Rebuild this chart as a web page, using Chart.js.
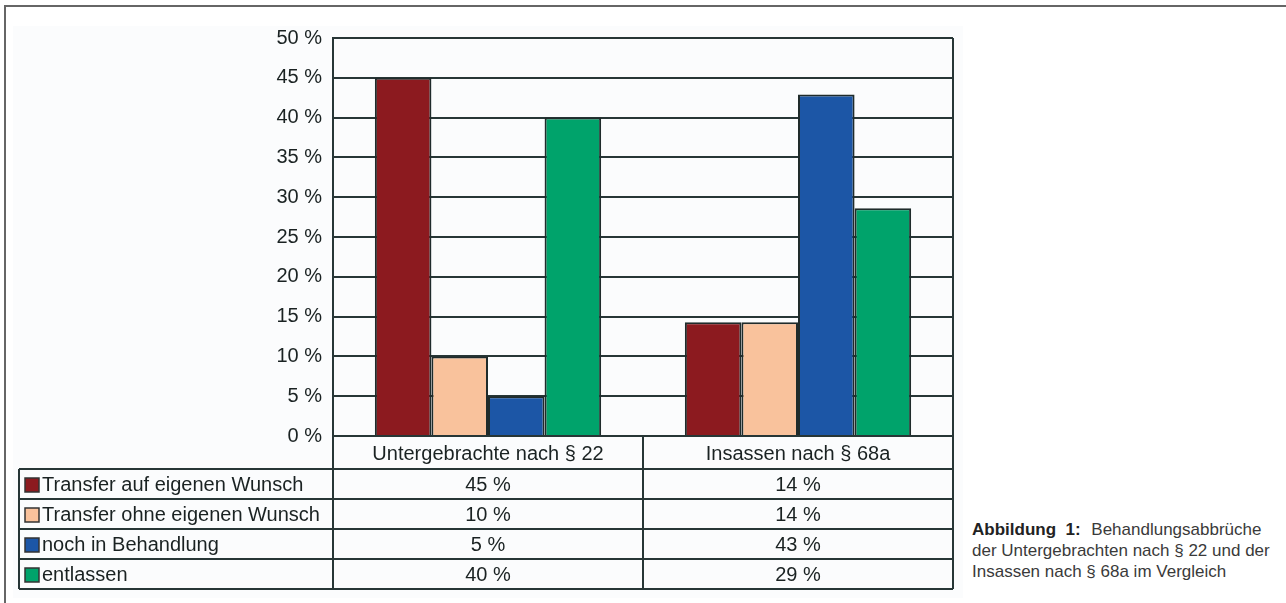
<!DOCTYPE html>
<html>
<head>
<meta charset="utf-8">
<script src="https://cdn.jsdelivr.net/npm/chart.js@4.4.1/dist/chart.umd.min.js"></script>
<style>
  body { margin: 0; background: #fff; width: 1286px; height: 603px; overflow: hidden; position: relative; }
  #rahmen { position: absolute; left: 4px; top: 5px; width: 1300px; height: 620px; border-top: 2px solid #666; border-left: 2px solid #666; }
  #flaeche { position: absolute; left: 13px; top: 26px; width: 950px; height: 572px; background: #fbfcfd; }
  #wrap { position: absolute; left: 0; top: 0; width: 960px; height: 603px; }
  #caption { position: absolute; left: 972px; top: 519px; font-family: "Liberation Sans Narrow", "Liberation Sans", sans-serif; font-size: 17px; line-height: 21px; color: #3a3a3a; }
  #caption b { color: #222; margin-right: 6px; }
</style>
</head>
<body>
<div id="rahmen"></div>
<div id="flaeche"></div>
<div id="wrap"><canvas id="myChart" width="960" height="603"></canvas></div>
<div id="caption"><b>Abbildung&nbsp;&nbsp;1:</b> Behandlungsabbrüche<br>der Untergebrachten nach § 22 und der<br>Insassen nach § 68a im Vergleich</div>

<script>
// Daten
let kategorien = ["Untergebrachte nach § 22", "Insassen nach § 68a"];
let serienNamen = ["Transfer auf eigenen Wunsch", "Transfer ohne eigenen Wunsch", "noch in Behandlung", "entlassen"];
let transferEigen = [45, 14.3];
let transferOhne = [10, 14.3];
let nochInBehandlung = [5, 42.9];
let entlassen = [40, 28.6];
let tabelle = [["45 %", "14 %"], ["10 %", "14 %"], ["5 %", "43 %"], ["40 %", "29 %"]];
let farben = ["#8c1a1f", "#f9c29c", "#1c56a6", "#00a36b"];

let linie = "#273636";
let schrift = "#1a2222";
let font = { family: "'Liberation Sans', Arial, sans-serif", size: 20 };

///// Datentabelle unter dem Diagramm /////
let tabellePlugin = {
  id: "tabelle",
  afterDraw(chart) {
    let ctx = chart.ctx;
    let area = chart.chartArea;
    let x = chart.scales.x;
    let links = 19;
    let oben = area.bottom + 33;
    let zeile = 30;
    let unten = oben + zeile * serienNamen.length;
    let mitte = (x.getPixelForValue(0) + x.getPixelForValue(1)) / 2;

    ctx.save();
    ctx.strokeStyle = linie;
    ctx.lineWidth = 2;
    ctx.beginPath();
    // rechter Rand der Grafik
    ctx.moveTo(area.right, area.top);
    ctx.lineTo(area.right, unten);
    ctx.moveTo(area.left, area.bottom);
    ctx.lineTo(area.left, unten);
    ctx.moveTo(mitte, area.bottom);
    ctx.lineTo(mitte, unten);
    ctx.moveTo(links, oben);
    ctx.lineTo(links, unten);
    for (let i = 0; i <= serienNamen.length; i++) {
      ctx.moveTo(links, oben + i * zeile);
      ctx.lineTo(area.right, oben + i * zeile);
    }
    ctx.stroke();

    ctx.font = font.size + "px " + font.family;
    ctx.textBaseline = "middle";
    serienNamen.forEach((name, i) => {
      let y = oben + i * zeile + zeile / 2 + 1;
      ctx.fillStyle = farben[i];
      ctx.fillRect(links + 6, y - 7, 14, 14);
      ctx.lineWidth = 1.5;
      ctx.strokeStyle = "#333";
      ctx.strokeRect(links + 6, y - 7, 14, 14);
      ctx.fillStyle = schrift;
      ctx.textAlign = "left";
      ctx.fillText(name, links + 23, y);
      ctx.textAlign = "center";
      tabelle[i].forEach((wert, j) => {
        ctx.fillText(wert, x.getPixelForValue(j), y);
      });
    });
    ctx.restore();
  }
};

function crearDatasets() {
  let werte = [transferEigen, transferOhne, nochInBehandlung, entlassen];
  return werte.map((data, i) => ({
    label: serienNamen[i],
    data: data,
    backgroundColor: farben[i],
    borderColor: "#1f2b2b",
    borderWidth: 2,
    barPercentage: 1,
    categoryPercentage: 0.73
  }));
}

let config = {
  type: "bar",
  data: { labels: kategorien, datasets: crearDatasets() },
  options: {
    responsive: false,
    animation: false,
    devicePixelRatio: 1,
    layout: { padding: { left: 0, right: 7, top: 38, bottom: 134 } },
    plugins: { legend: { display: false }, tooltip: { enabled: false } },
    scales: {
      x: {
        grid: { display: false, drawTicks: false },
        border: { display: false },
        ticks: { font: font, color: schrift, padding: 6 },
        afterFit(scale) { scale.height = 33; }
      },
      y: {
        min: 0,
        max: 50,
        ticks: { stepSize: 5, font: font, color: schrift, padding: 11, callback: (v) => v + " %" },
        grid: { color: linie, lineWidth: 2, drawTicks: false },
        border: { display: true, color: linie, width: 2 },
        afterFit(scale) { scale.width = 333; }
      }
    }
  },
  plugins: [tabellePlugin]
};

let myChart = new Chart(document.getElementById("myChart"), config);
</script>
</body>
</html>
